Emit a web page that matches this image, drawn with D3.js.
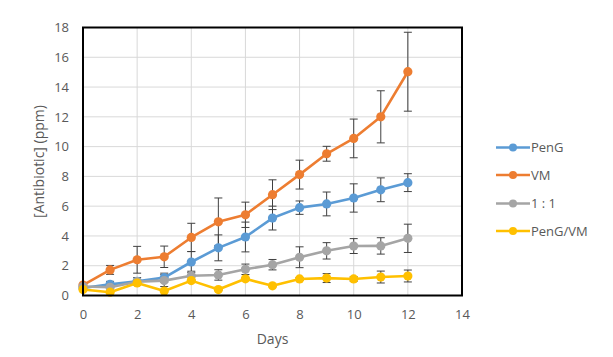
<!DOCTYPE html>
<html><head><meta charset="utf-8">
<script src="https://cdn.jsdelivr.net/npm/d3@7"></script>
<style>body{margin:0;background:#fff}svg{display:block}</style>
</head><body>
<svg id="c" width="613" height="357"></svg>
<script>
const days = [0,1,2,3,4,5,6,7,8,9,10,11,12];
const seriesNames = ["PenG","VM","1 : 1","PenG/VM"];
const seriesColors = ["#5B9BD5","#ED7D31","#A5A5A5","#FFC000"];
const pengValues = [0.5,0.75,0.95,1.2,2.25,3.2,3.93,5.2,5.9,6.15,6.55,7.1,7.58];
const pengErrors = [0.1,0.2,0.25,0.3,0.7,0.87,1.0,0.8,0.45,0.8,0.95,0.8,0.6];
const vmValues = [0.7,1.72,2.4,2.6,3.9,4.95,5.42,6.77,8.12,9.52,10.55,12.0,15.03];
const vmErrors = [0.1,0.3,0.9,0.72,0.95,1.6,0.85,1.0,0.97,0.5,1.3,1.75,2.65];
const mixValues = [0.6,0.55,0.93,1.0,1.33,1.38,1.76,2.07,2.57,3.0,3.32,3.33,3.84];
const mixErrors = [0.1,0.1,0.15,0.4,0.3,0.35,0.35,0.35,0.7,0.55,0.5,0.55,0.95];
const pvValues = [0.4,0.22,0.84,0.3,1.0,0.4,1.12,0.65,1.11,1.17,1.11,1.24,1.31];
const pvErrors = [0.05,0.05,0.05,0.05,0.05,0.05,0.05,0.05,0.1,0.3,0.15,0.4,0.4];
const xTicks = [0,2,4,6,8,10,12,14];
const yTicks = [0,2,4,6,8,10,12,14,16,18];

const allValues = [pengValues, vmValues, mixValues, pvValues];
const allErrors = [pengErrors, vmErrors, mixErrors, pvErrors];

const svg = d3.select("#c");
const L = 83, R = 462, T = 27.5, B = 295.5;
const x = d3.scaleLinear().domain([0,14]).range([L,R]);
const y = d3.scaleLinear().domain([0,18]).range([B,T]);
const font = "'Open Sans', 'Liberation Sans', sans-serif";

// gridlines
svg.append("g").selectAll("line").data(yTicks.slice(1)).join("line")
  .attr("x1",L).attr("x2",R).attr("y1",d=>y(d)).attr("y2",d=>y(d))
  .attr("stroke","#d9d9d9").attr("stroke-width",1);
svg.append("g").selectAll("line").data(xTicks.slice(1,-1)).join("line")
  .attr("y1",T).attr("y2",B).attr("x1",d=>x(d)).attr("x2",d=>x(d))
  .attr("stroke","#d9d9d9").attr("stroke-width",1);

// axes labels via d3 axes
const xAxis = svg.append("g").attr("transform",`translate(0,${B})`)
  .call(d3.axisBottom(x).tickValues(xTicks).tickSize(0).tickPadding(14));
const yAxis = svg.append("g").attr("transform",`translate(${L},0)`)
  .call(d3.axisLeft(y).tickValues(yTicks).tickSize(0).tickPadding(14));
[xAxis,yAxis].forEach(a=>{
  a.select(".domain").remove();
  a.selectAll("text").attr("fill","#595959").style("font-family",font).style("font-size","13px");
});

// error bars (below lines and markers)
allValues.forEach((vals,si)=>{
  const errs = allErrors[si];
  const g = svg.append("g").attr("stroke","#404040").attr("stroke-width",1);
  vals.forEach((v,i)=>{
    const cx = x(days[i]), e = errs[i];
    g.append("line").attr("x1",cx).attr("x2",cx).attr("y1",y(v+e)).attr("y2",y(Math.max(0,v-e)));
    g.append("line").attr("x1",cx-4).attr("x2",cx+4).attr("y1",y(v+e)).attr("y2",y(v+e));
    if (v-e>0) g.append("line").attr("x1",cx-4).attr("x2",cx+4).attr("y1",y(v-e)).attr("y2",y(v-e));
  });
});

// series
const line = d3.line().x((d,i)=>x(days[i])).y(d=>y(d));
allValues.forEach((vals,si)=>{
  const g = svg.append("g");
  g.append("path").datum(vals).attr("d",line).attr("fill","none")
    .attr("stroke",seriesColors[si]).attr("stroke-width",2.6).attr("stroke-linejoin","round");
  g.selectAll("circle").data(vals).join("circle")
    .attr("cx",(d,i)=>x(days[i])).attr("cy",d=>y(d)).attr("r",4.6)
    .attr("fill",seriesColors[si]);
});

// plot border
svg.append("rect").attr("x",L).attr("y",T).attr("width",R-L).attr("height",B-T)
  .attr("fill","none").attr("stroke","#000").attr("stroke-width",2);

// axis titles
svg.append("text").attr("x",(L+R)/2).attr("y",344).attr("text-anchor","middle")
  .attr("fill","#595959").style("font-family",font).style("font-size","14px").text("Days");
svg.append("text").attr("transform",`translate(44,${(T+B)/2}) rotate(-90)`).attr("text-anchor","middle")
  .attr("fill","#595959").style("font-family",font).style("font-size","14px").text("[Antibiotic] (ppm)");

// legend
const legY = [147.5,175,203.5,231];
seriesNames.forEach((n,si)=>{
  const g = svg.append("g").attr("transform",`translate(0,${legY[si]})`);
  g.append("line").attr("x1",496).attr("x2",530).attr("stroke",seriesColors[si]).attr("stroke-width",2.6);
  g.append("circle").attr("cx",513).attr("cy",0).attr("r",4).attr("fill",seriesColors[si]);
  g.append("text").attr("x",531).attr("y",0).attr("dy","0.35em").attr("fill","#595959")
    .style("font-family",font).style("font-size","13px").text(n);
});
</script>
</body></html>
